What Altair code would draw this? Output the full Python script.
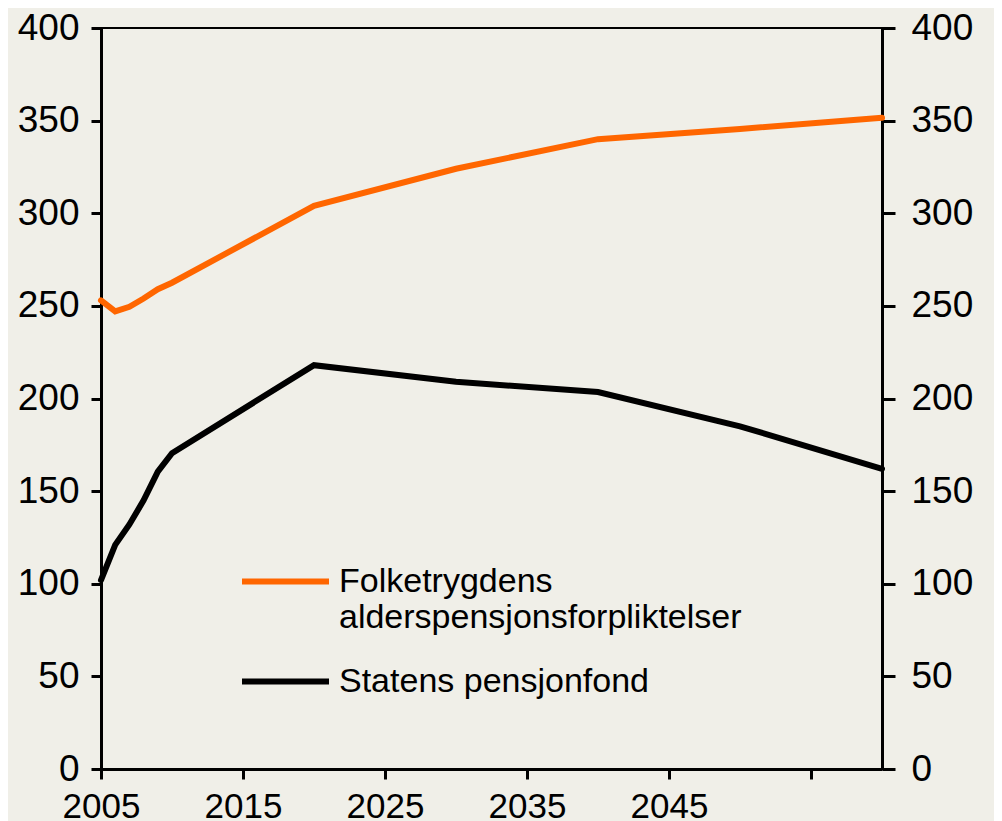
import altair as alt
import pandas as pd

years = [2005, 2006, 2007, 2008, 2009, 2010, 2020, 2030, 2040, 2050, 2060]
folketrygd = [253, 247, 249.5, 254, 259, 262.5, 304, 324, 340, 345.5, 351.5]
statens = [102, 121, 132, 145, 160.5, 170.5, 218, 209, 203.5, 185, 162]

s1 = "Folketrygdens alderspensjonsforpliktelser"
s2 = "Statens pensjonfond"
series_names = [s1, s2]
colors = ["#FF6600", "#000000"]

rows = []
for y, a, b in zip(years, folketrygd, statens):
    rows.append({"year": y, "value": a, "series": s1})
    rows.append({"year": y, "value": b, "series": s2})
df = pd.DataFrame(rows)

x_ticks = [2005, 2015, 2025, 2035, 2045, 2055]
y_ticks = [0, 50, 100, 150, 200, 250, 300, 350, 400]

FONT = "Liberation Sans"

x = alt.X("year:Q", scale=alt.Scale(domain=[2005, 2060], nice=False, zero=False),
          axis=alt.Axis(values=x_ticks, format="d", title=None, grid=False,
                        labelExpr="datum.value == 2055 ? '' : datum.label",
                        labelFontSize=35, labelFont=FONT, labelColor="black",
                        labelPadding=10, tickSize=10, tickWidth=3, tickColor="black",
                        domainColor="black", domainWidth=3, labelFlush=False))

yscale = alt.Scale(domain=[0, 400], nice=False)

color = alt.Color("series:N", scale=alt.Scale(domain=series_names, range=colors),
                  legend=alt.Legend(orient="none", legendX=138, legendY=507, title=None,
                                    symbolType="stroke", symbolSize=7569, symbolStrokeWidth=6,
                                    labelFontSize=34, labelFont=FONT, labelColor="black",
                                    labelOffset=7, padding=0, rowPadding=-8,
                                    labelLimit=600,
                                    labelExpr="datum.label == 'Folketrygdens alderspensjonsforpliktelser' ? ['Folketrygdens', 'alderspensjonsforpliktelser'] : datum.label"))

left = alt.Chart(df).mark_line(strokeWidth=6, strokeCap="round").encode(
    x=x,
    y=alt.Y("value:Q", scale=yscale,
            axis=alt.Axis(values=y_ticks, title=None, grid=False, orient="left",
                          labelFontSize=37, labelFont=FONT, labelColor="black",
                          labelPadding=12, tickSize=10, tickWidth=3, tickColor="black",
                          domainColor="black", domainWidth=3)),
    color=color,
)

right = alt.Chart(df).mark_line(opacity=0).encode(
    x=x,
    y=alt.Y("value:Q", scale=yscale,
            axis=alt.Axis(values=y_ticks, title=None, grid=False, orient="right",
                          labelFontSize=37, labelFont=FONT, labelColor="black",
                          labelPadding=16, tickSize=13, tickWidth=3, tickColor="black",
                          domainColor="black", domainWidth=3)),
    detail="series:N",
)

chart = alt.layer(left, right).resolve_scale(y="independent").properties(
    width=781, height=741,
    background="#F0EFE8",
    padding={"left": 93, "top": 20, "right": 112, "bottom": 52},
    autosize=alt.AutoSizeParams(type="none"),
).configure_view(stroke="black", strokeWidth=2)

chart.save("out.html", embed_options={"renderer": "svg", "actions": False})
